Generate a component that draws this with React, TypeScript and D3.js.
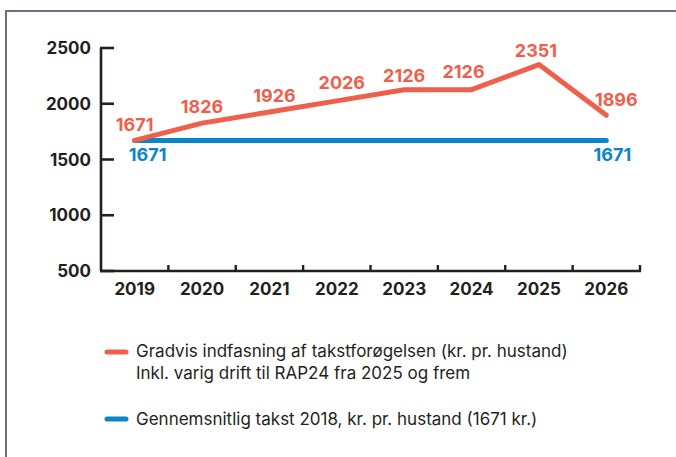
import React from "react";
import * as d3 from "d3";

const years = ["2019", "2020", "2021", "2022", "2023", "2024", "2025", "2026"];
const gradvis = [1671, 1826, 1926, 2026, 2126, 2126, 2351, 1896];
const gennemsnit = [1671, 1671, 1671, 1671, 1671, 1671, 1671, 1671];
const yTicks = [500, 1000, 1500, 2000, 2500];
const legendRed = [
  "Gradvis indfasning af takstforøgelsen (kr. pr. hustand)",
  "Inkl. varig drift til RAP24 fra 2025 og frem",
];
const legendBlue = "Gennemsnitlig takst 2018, kr. pr. hustand (1671 kr.)";

const RED = "#ef5f4b";
const BLUE = "#0a85cb";
const INK = "#231f20";
const NUM_FONT = "Inter, 'DejaVu Sans', sans-serif";
const TXT_FONT = "Inter, 'Noto Sans', sans-serif";

export default function App() {
  const W = 676;
  const H = 457;
  const x = d3.scaleBand<string>().domain(years).range([101, 640]).padding(0);
  const y = d3.scaleLinear().domain([500, 2500]).range([271, 48]);
  const cx = (d: string) => (x(d) as number) + x.bandwidth() / 2;

  const line = d3
    .line<number>()
    .x((_, i) => cx(years[i]))
    .y((v) => y(v));

  // small manual nudges of value labels, as in the original layout
  const redDx = [0, 0, 5, 5, 0, -8, -3, 10];
  const redDy = [-9, -10, -10, -12, -8, -12, -8, -9];

  const boundaries = years.map((d) => (x(d) as number) + x.bandwidth());

  return (
    <svg
      width={W}
      height={H}
      style={{ position: "absolute", left: 0, top: 0, background: "#fff" }}
    >
      <rect x={6} y={11} width={700} height={500} fill="none" stroke="#6c6f85" strokeWidth={2} />

      {/* y axis */}
      <line x1={101} x2={101} y1={y(2500)} y2={y(500)} stroke={INK} strokeWidth={2.6} />
      {yTicks.map((t) => (
        <g key={t}>
          <line x1={100} x2={114} y1={y(t)} y2={y(t)} stroke={INK} strokeWidth={2.6} />
          <text
            x={91}
            y={y(t) + 6}
            textAnchor="end"
            fontFamily={NUM_FONT}
            fontWeight={700}
            fontSize={17}
            fill={INK}
          >
            {t}
          </text>
        </g>
      ))}

      {/* x axis */}
      <line x1={100} x2={641} y1={y(500)} y2={y(500)} stroke={INK} strokeWidth={2.6} />
      {boundaries.map((b, i) => (
        <line key={i} x1={b} x2={b} y1={y(500)} y2={y(500) - 6} stroke={INK} strokeWidth={2.4} />
      ))}
      {years.map((d) => (
        <text
          key={d}
          x={cx(d)}
          y={295}
          textAnchor="middle"
          fontFamily={NUM_FONT}
          fontWeight={700}
          fontSize={17}
          fill={INK}
        >
          {d}
        </text>
      ))}

      {/* lines */}
      <path d={line(gennemsnit) || ""} fill="none" stroke={BLUE} strokeWidth={5} strokeLinecap="round" strokeLinejoin="round" />
      <path d={line(gradvis) || ""} fill="none" stroke={RED} strokeWidth={5} strokeLinecap="round" strokeLinejoin="round" />

      {/* red value labels */}
      {gradvis.map((v, i) => (
        <text
          key={i}
          x={cx(years[i]) + redDx[i]}
          y={y(v) + redDy[i]}
          textAnchor="middle"
          fontFamily={NUM_FONT}
          fontWeight={700}
          fontSize={18}
          fill={RED}
        >
          {v}
        </text>
      ))}

      {/* blue value labels (first and last) */}
      {[0, years.length - 1].map((i) => (
        <text
          key={i}
          x={cx(years[i]) + (i === 0 ? 13 : 6)}
          y={y(gennemsnit[i]) + 21}
          textAnchor="middle"
          fontFamily={NUM_FONT}
          fontWeight={700}
          fontSize={18}
          fill={BLUE}
        >
          {gennemsnit[i]}
        </text>
      ))}

      {/* legend */}
      <line x1={107} x2={126} y1={352} y2={352} stroke={RED} strokeWidth={5} strokeLinecap="round" />
      {legendRed.map((t, i) => (
        <text key={i} x={136} y={357 + i * 22} fontFamily={TXT_FONT} fontSize={17} fill={INK}>
          {t}
        </text>
      ))}
      <line x1={107} x2={126} y1={419} y2={419} stroke={BLUE} strokeWidth={5} strokeLinecap="round" />
      <text x={136} y={425} fontFamily={TXT_FONT} fontSize={17} fill={INK}>
        {legendBlue}
      </text>
    </svg>
  );
}
